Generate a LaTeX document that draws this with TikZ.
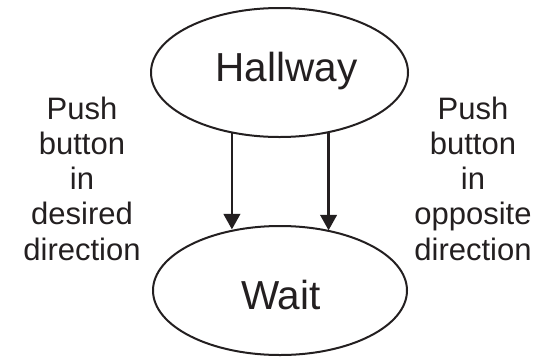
\documentclass[tikz,border=0pt]{standalone}
\usepackage{fontspec}
\setmainfont{Liberation Sans}
\usetikzlibrary{shapes.geometric,arrows.meta}
\definecolor{ink}{RGB}{35,31,32}
\begin{document}
\begin{tikzpicture}[x=1pt,y=-1pt,
  state/.style={draw=ink, line width=2pt, ellipse, inner sep=0pt},
  lbl/.style={anchor=base, inner sep=0pt, text=ink, font=\fontsize{40.5}{48}\selectfont},
  side/.style={align=center, inner sep=0pt, anchor=north, text=ink, font=\fontsize{31}{35.25}\selectfont},
  arr/.style={draw=ink, line width=2.6pt, -{Triangle[width=16.5pt,length=15.5pt]}}]
\useasboundingbox (0,0) rectangle (544,357);
\node[state, minimum width=257pt, minimum height=129pt] (hall) at (279.5,72.5) {};
\node[state, minimum width=254pt, minimum height=129pt] (wait) at (280,290.5) {};
\node[lbl] (hallt) at (286.5,81.7) {Hallway};
\node[lbl] (waitt) at (281,309.3) {Wait};
\draw[arr] (hall.232.6) -- (hall.232.6 |- wait.127.8);
\draw[arr] (hall.309.8) -- (hall.309.8 |- wait.50.5);
\node[side] (lt) at (82,96.5) {Push\\button\\in\\desired\\direction};
\node[side] (rt) at (473,96.5) {Push\\button\\in\\opposite\\direction};
\end{tikzpicture}
\end{document}
